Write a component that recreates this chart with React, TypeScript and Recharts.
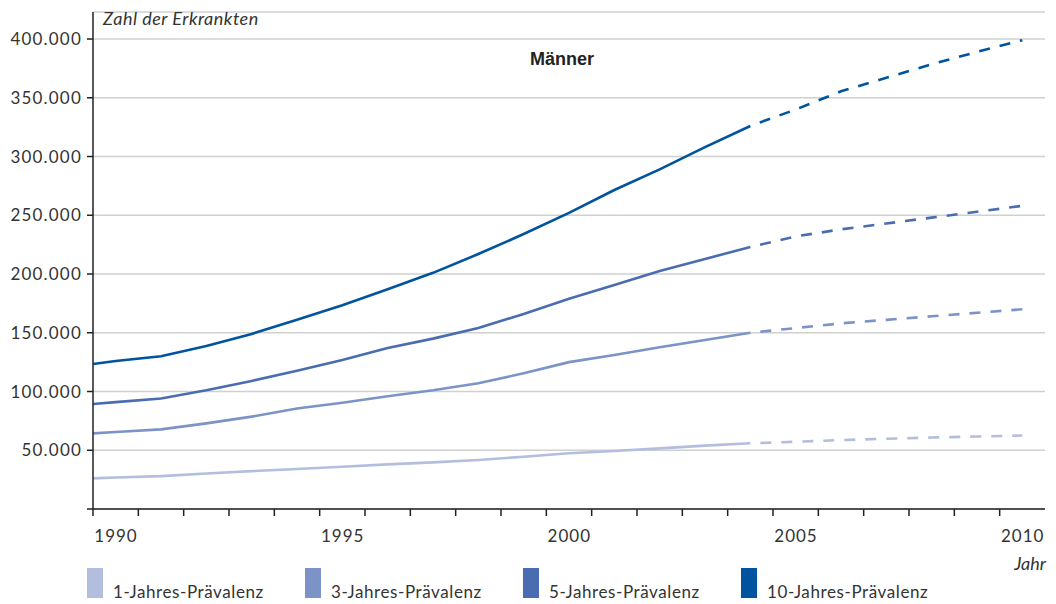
import { LineChart, Line, XAxis, YAxis, CartesianGrid } from 'recharts';

// years are plotted at the middle of each yearly interval
const years = [1990, 1991, 1992, 1993, 1994, 1995, 1996, 1997, 1998, 1999, 2000, 2001, 2002, 2003, 2004, 2005, 2006, 2007, 2008, 2009, 2010];
const lastObserved = 2004;
const labelYears = [1990, 1995, 2000, 2005, 2010];
const yTicks = [0, 50000, 100000, 150000, 200000, 250000, 300000, 350000, 400000];

const seriesNames = ['1-Jahres-Prävalenz', '3-Jahres-Prävalenz', '5-Jahres-Prävalenz', '10-Jahres-Prävalenz'];
const seriesColors = ['#b3bedf', '#7b93c6', '#4a6db2', '#00549f'];

// value where each line meets the y axis (left edge of 1990)
const axisStart = [26100, 64400, 89400, 123400];

const prev1 = [26800, 28000, 30200, 32200, 34000, 36000, 38000, 39700, 41700, 44500, 47400, 49400, 51600, 53900, 55900, 57200, 58700, 59800, 60800, 61700, 62500];
const prev3 = [65500, 67800, 72900, 78600, 85500, 90500, 96000, 101000, 107000, 115500, 125000, 131000, 137600, 143800, 150000, 154000, 158000, 161000, 164000, 167000, 170000];
const prev5 = [91000, 94000, 101000, 109000, 117700, 126800, 137000, 145000, 154000, 166000, 179000, 190600, 202500, 212800, 223000, 232000, 238000, 243000, 248000, 253000, 258000];
const prev10 = [126000, 130000, 138700, 149000, 161000, 173500, 187000, 201000, 217000, 234000, 252000, 271500, 289000, 308000, 326000, 340000, 355500, 367000, 378500, 389000, 399000];

const allSeries = [prev1, prev3, prev5, prev10];

const data = [
  { x: years[0] - 0.5, ...Object.fromEntries(axisStart.map((v, i) => ['s' + i, v])) },
  ...years.map((yr, idx) => {
    const row: Record<string, number | null> = { x: yr };
    allSeries.forEach((s, i) => {
      row['s' + i] = yr <= lastObserved ? s[idx] : null;
      row['d' + i] = yr >= lastObserved ? s[idx] : null;
    });
    return row;
  }),
];

const xTicks = years.map((y) => y - 0.5);

const fmt = (v: number) => String(v).replace(/\B(?=(\d{3})+(?!\d))/g, '.');

const font = 'Lato, "Open Sans", sans-serif';

function YearTick(props: any) {
  const { x, y, payload } = props;
  const year = payload.value + 0.5;
  if (!labelYears.includes(year)) return null;
  return (
    <text x={x + 23} y={y + 24} textAnchor="middle" fontFamily={font} fontSize={17} letterSpacing={1} fill="#333">
      {year}
    </text>
  );
}

export default function App() {
  return (
    <div style={{ position: 'absolute', left: 0, top: 0, width: 1056, height: 604, background: '#fff' }}>
      <LineChart width={1056} height={604} data={data} margin={{ top: 12, right: 11, bottom: 55, left: 0 }}>
        <CartesianGrid vertical={false} stroke="#d0d0d0" strokeWidth={1.5} />
        <XAxis
          dataKey="x"
          type="number"
          domain={[years[0] - 0.5, years[years.length - 1] + 0.5]}
          ticks={xTicks}
          interval={0}
          height={40}
          tickSize={7}
          tick={<YearTick />}
          stroke="#222"
          strokeWidth={1.5}
          allowDataOverflow
        />
        <YAxis
          width={93}
          domain={[0, 423000]}
          ticks={yTicks}
          interval={0}
          tickSize={6}
          tickMargin={5}
          tickFormatter={(v: number) => (v === 0 ? '' : fmt(v))}
          tick={{ fontFamily: font, fontSize: 17, fill: '#333', letterSpacing: 1.2 }}
          stroke="#222"
          strokeWidth={1.5}
          allowDataOverflow
        />
        {seriesNames.map((name, i) => (
          <Line
            key={'s' + i}
            dataKey={'s' + i}
            name={name}
            type="linear"
            stroke={seriesColors[i]}
            strokeWidth={2.6}
            dot={false}
            activeDot={false}
            isAnimationActive={false}
          />
        ))}
        {seriesNames.map((name, i) => (
          <Line
            key={'d' + i}
            dataKey={'d' + i}
            name={name + ' (Prognose)'}
            type="linear"
            stroke={seriesColors[i]}
            strokeWidth={2.6}
            strokeDasharray="11 10"
            strokeDashoffset={11}
            dot={false}
            activeDot={false}
            legendType="none"
            isAnimationActive={false}
          />
        ))}
      </LineChart>

      <div style={{ position: 'absolute', left: 103, top: 7, fontFamily: font, fontStyle: 'italic', fontSize: 18, letterSpacing: 0.5, color: '#333' }}>
        Zahl der Erkrankten
      </div>
      <div style={{ position: 'absolute', left: 530, top: 49, fontFamily: '"Liberation Sans", Arial, sans-serif', fontWeight: 'bold', fontSize: 18, color: '#222' }}>
        Männer
      </div>
      <div style={{ position: 'absolute', right: 10, top: 552, fontFamily: font, fontStyle: 'italic', fontSize: 18, color: '#333' }}>
        Jahr
      </div>

      <div style={{ position: 'absolute', left: 87, top: 568, display: 'flex' }}>
        {seriesNames.map((name, i) => (
          <div key={name} style={{ width: 218, display: 'flex', alignItems: 'flex-end', height: 30 }}>
            <div style={{ width: 16, height: 30, background: seriesColors[i], marginRight: 10 }} />
            <span style={{ fontFamily: font, fontSize: 17, color: '#333', lineHeight: '20px', letterSpacing: 0.6, marginBottom: -4 }}>{name}</span>
          </div>
        ))}
      </div>
    </div>
  );
}
